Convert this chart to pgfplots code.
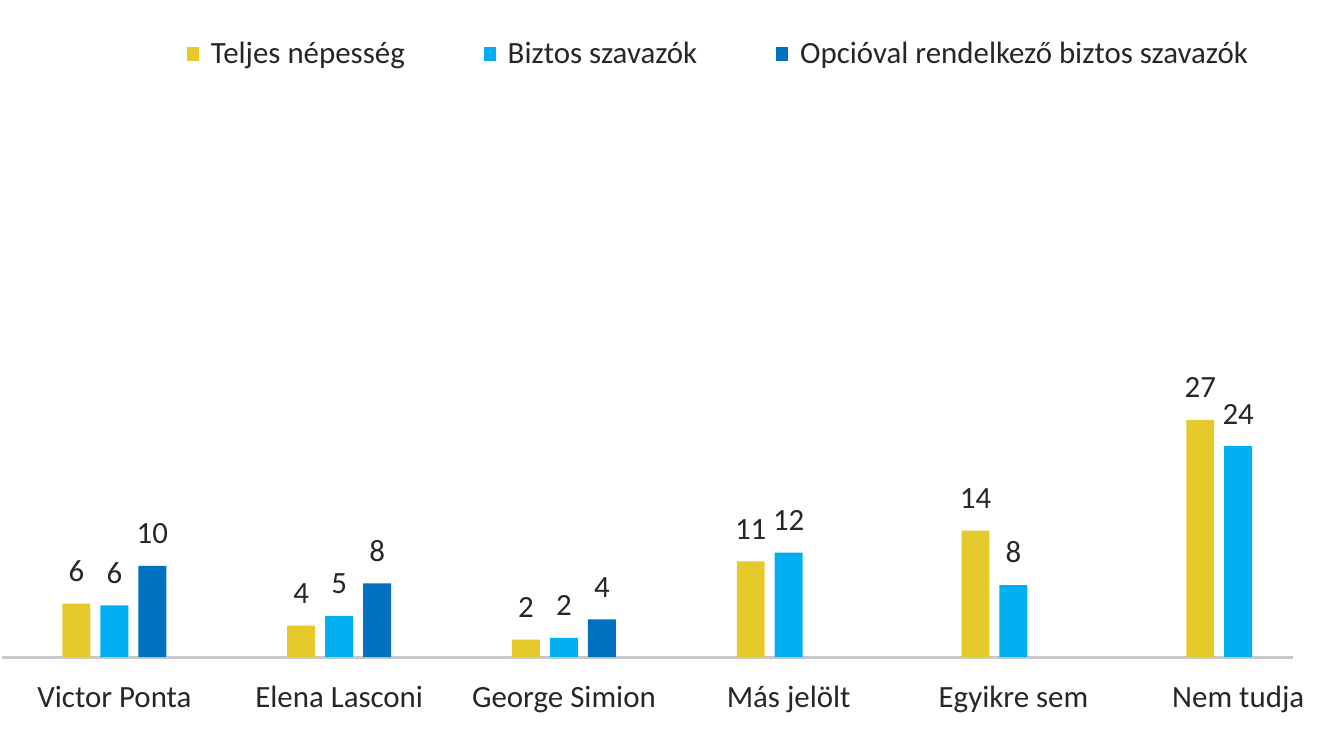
\documentclass[border=0pt]{standalone}
\usepackage{pgfplots}
\pgfplotsset{compat=1.18}
\usepackage{fontspec}
\setmainfont{Carlito}

\definecolor{cTeljes}{HTML}{E6C92B}
\definecolor{cBiztos}{HTML}{00B0F0}
\definecolor{cOpcio}{HTML}{0070C0}
\definecolor{cAxis}{HTML}{C8C8C8}
\definecolor{cText}{HTML}{262626}

\newcommand{\chartfont}{\fontsize{8.8}{10}\selectfont}

\begin{document}
\chartfont
\begin{tikzpicture}
\begin{axis}[
    ybar=0.1cm,
    bar width=0.28cm,
    scale only axis,
    width=12.93cm,
    height=5.58cm,
    xmin=-0.502, xmax=5.244,
    ymin=0, ymax=63.4,
    xtick={0,1,2,3,4,5},
    xticklabels={Victor Ponta, Elena Lasconi, George Simion, Más jelölt, Egyikre sem, Nem tudja},
    xticklabel style={font=\chartfont, text=cText, yshift=-0.18cm},
    major tick length=0pt,
    axis x line*=bottom,
    axis y line=none,
    x axis line style={draw=cAxis, line width=0.9pt},
    /pgf/number format/assume math mode=true,
    nodes near coords,
    nodes near coords style={font=\chartfont, text=cText, yshift=0.11cm,
        /pgf/number format/fixed, /pgf/number format/precision=0,
        /pgf/number format/assume math mode=true},
    legend style={
        at={(0.557,1.081)}, anchor=center,
        draw=none, fill=none,
        legend columns=3,
        font=\chartfont,
        text=cText,
        /tikz/every even column/.append style={column sep=0.72cm},
    },
    legend image code/.code={\fill[#1] (0cm,-0.065cm) rectangle (0.12cm,0.075cm); \path (0.17cm,0);},
    clip=false,
]
\addplot[fill=cTeljes, draw=none] coordinates {
    (0,6.1) (1,3.6) (2,2.0) (3,10.9) (4,14.4) (5,27.0)
};
\addlegendentry{Teljes népesség}
\addplot[fill=cBiztos, draw=none] coordinates {
    (0,5.9) (1,4.7) (2,2.2) (3,11.9) (4,8.2) (5,24.0)
};
\addlegendentry{Biztos szavazók}
\addplot[fill=cOpcio, draw=none] coordinates {
    (0,10.4) (1,8.4) (2,4.3)
};
\addlegendentry{Opcióval rendelkező biztos szavazók}
\end{axis}
\path (current axis.south west) ++(0,-0.85cm) rectangle ++(13.2cm,7.43cm);
\end{tikzpicture}
\end{document}
